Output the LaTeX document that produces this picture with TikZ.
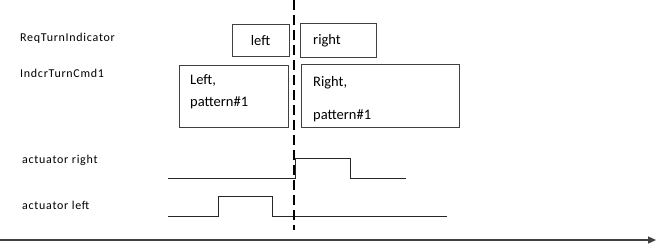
\documentclass[tikz,border=0pt]{standalone}
\usepackage{fontspec}
\setmainfont{Carlito}
\newfontfamily\lblfont[LetterSpace=6]{Carlito}
\usetikzlibrary{arrows.meta}
\begin{document}
\begin{tikzpicture}[x=1pt,y=-1pt,
  box/.style={draw=black!75,line width=0.9pt,inner sep=0pt},
  boxtxt/.style={font=\fontsize{14.5}{16}\selectfont,anchor=west,inner sep=0pt},
  lbl/.style={font=\lblfont\fontsize{12}{14}\selectfont,anchor=west,inner sep=0pt},
  wave/.style={line width=0.9pt,black!85},
  timeline/.style={line width=1.2pt,black!75,-{Triangle[length=8pt,width=7pt]}}]
\useasboundingbox (0,0) rectangle (658,250);
% labels
\node[lbl] (l1) at (20,38) {ReqTurnIndicator};
\node[lbl] (l2) at (20,73) {IndcrTurnCmd1};
\node[lbl] (l3) at (22,160) {actuator right};
\node[lbl] (l4) at (22,205) {actuator left};
% boxes
\draw[box] (232,24) rectangle (289,56);
\node[boxtxt,anchor=center] (tleft) at (260.5,41) {left};
\draw[box] (300,23) rectangle (376,57);
\node[boxtxt] (tright) at (313,41) {right};
\draw[box] (179,65) rectangle (288,127);
\node[boxtxt] (tl1) at (190,80) {Left,};
\node[boxtxt] (tl2) at (190,103) {pattern\#1};
\draw[box] (301,64) rectangle (459,127);
\node[boxtxt] (tr1) at (313,83) {Right,};
\node[boxtxt] (tr2) at (313,116) {pattern\#1};
% waveforms
\draw[wave] (168,178) -- (295,178) -- (295,158) -- (350,158) -- (350,178) -- (406,178);
\draw[wave] (168,216) -- (218,216) -- (218,196) -- (272,196) -- (272,216) -- (447,216);
% dashed line
\coordinate (dtop) at (294,0);
\coordinate (dbot) at (294,230);
\draw[line width=2.6pt,dash pattern=on 10pt off 5pt] (dtop) -- (dbot);
% time axis
\coordinate (t0) at (0,240);
\coordinate (t1) at (656,240);
\draw[timeline] (t0) -- (t1);
\end{tikzpicture}
\end{document}
